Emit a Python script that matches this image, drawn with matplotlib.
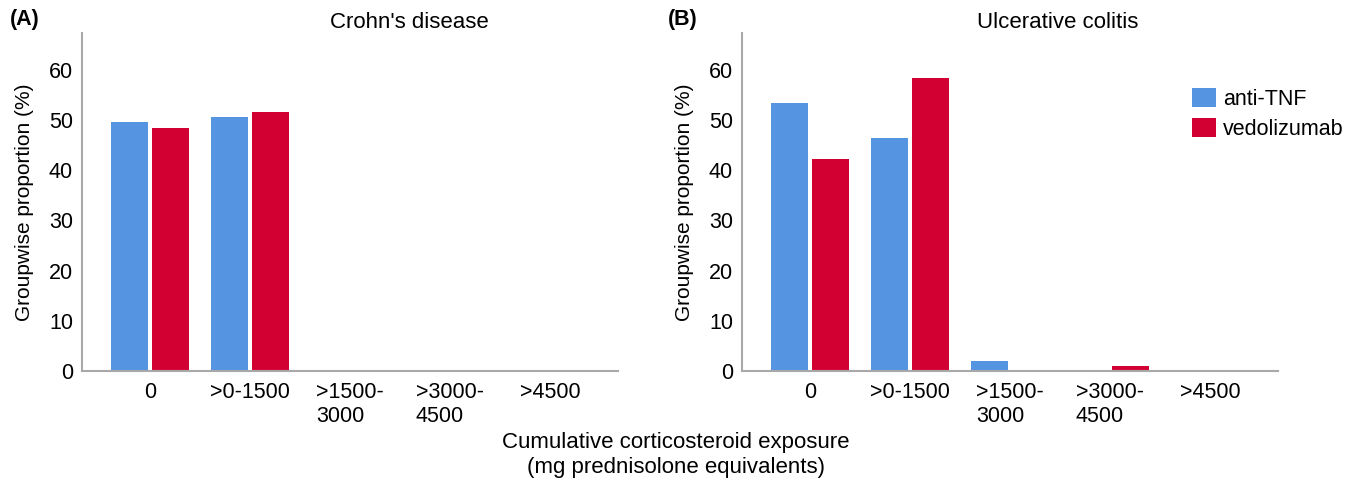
import matplotlib
matplotlib.use("Agg")
import matplotlib.pyplot as plt
import numpy as np

plt.rcParams['font.family'] = ['Liberation Sans', 'DejaVu Sans']

categories = ["0", ">0-1500", ">1500-\n3000", ">3000-\n4500", ">4500"]
series_names = ["anti-TNF", "vedolizumab"]

cd_anti_tnf = [49.5, 50.5, 0, 0, 0]
cd_vedolizumab = [48.4, 51.6, 0, 0, 0]

uc_anti_tnf = [53.4, 46.3, 1.9, 0, 0]
uc_vedolizumab = [42.3, 58.4, 0, 0.95, 0]

panel_titles = ["Crohn's disease", "Ulcerative colitis"]
panel_letters = ["(A)", "(B)"]
yticks = [0, 10, 20, 30, 40, 50, 60]
ylabel = "Groupwise proportion (%)"
xlabel = "Cumulative corticosteroid exposure\n(mg prednisolone equivalents)"

BLUE = "#5594E0"
RED = "#D20032"
SPINE = "#A8A8A8"
FS = 15.5

W, H = 1355, 483
fig = plt.figure(figsize=(W / 100, H / 100), dpi=100)

def px_axes(x0, x1, y0, y1):
    return fig.add_axes([x0 / W, 1 - y1 / H, (x1 - x0) / W, (y1 - y0) / H])

axA = px_axes(82, 618, 33, 371)
axB = px_axes(742, 1278, 33, 371)

x = np.arange(len(categories))
bw = 0.37
off = 0.205
data = [(cd_anti_tnf, cd_vedolizumab), (uc_anti_tnf, uc_vedolizumab)]
for ax, (a, v) in zip([axA, axB], data):
    ax.bar(x - off, a, width=bw, color=BLUE, label=series_names[0])
    ax.bar(x + off, v, width=bw, color=RED, label=series_names[1])
    ax.set_xlim(-0.68, 4.68)
    ax.set_ylim(0, 67.3)
    ax.set_yticks(yticks)
    ax.set_xticks(x)
    ax.set_xticklabels(categories, multialignment='left', va='top', linespacing=1.15)
    ax.tick_params(axis='both', length=0, labelsize=FS, colors='black')
    ax.tick_params(axis='x', pad=8)
    ax.tick_params(axis='y', pad=6.5)
    for s in ['top', 'right']:
        ax.spines[s].set_visible(False)
    for s in ['left', 'bottom']:
        ax.spines[s].set_color(SPINE)
        ax.spines[s].set_linewidth(1.5)
    ax.set_ylabel(ylabel, fontsize=15, labelpad=11)

fig.text(409 / W, 1 - 22 / H, panel_titles[0], ha='center', va='center', fontsize=16)
fig.text(1058 / W, 1 - 22 / H, panel_titles[1], ha='center', va='center', fontsize=16)
fig.text(10 / W, 1 - 20 / H, panel_letters[0], ha='left', va='center', fontsize=FS, fontweight='bold')
fig.text(668 / W, 1 - 20 / H, panel_letters[1], ha='left', va='center', fontsize=FS, fontweight='bold')
fig.text(676 / W, 1 - 455 / H, xlabel, ha='center', va='center', fontsize=16, linespacing=1.2)

handles, labels = axB.get_legend_handles_labels()
fig.legend(handles, labels, loc='upper left', bbox_to_anchor=(1192 / W, 1 - 88 / H),
           frameon=False, fontsize=FS, handlelength=1.1, handleheight=1.0,
           handletextpad=0.35, labelspacing=0.35, borderpad=0, borderaxespad=0)

fig.savefig("out.png", dpi=100)
